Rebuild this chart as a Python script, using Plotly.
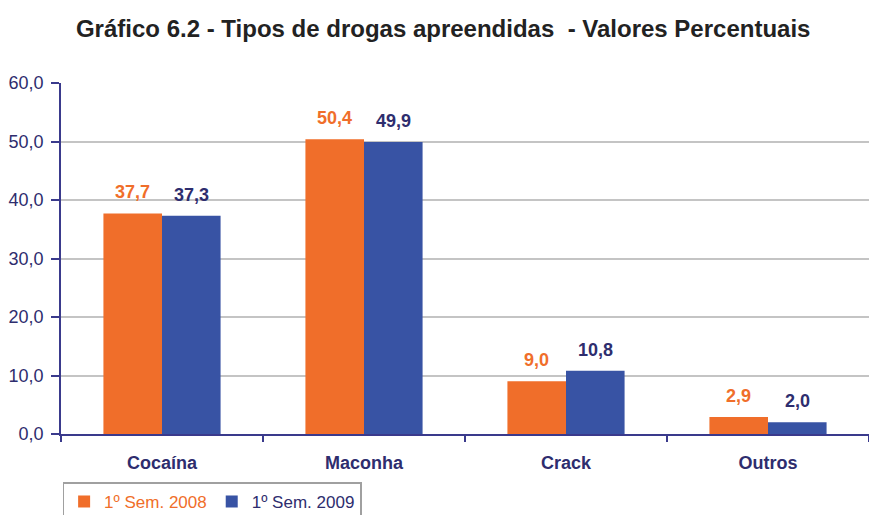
import plotly.graph_objects as go

categories = ["Cocaína", "Maconha", "Crack", "Outros"]
sem_2008 = [37.7, 50.4, 9.0, 2.9]
sem_2009 = [37.3, 49.9, 10.8, 2.0]
series_names = ["1º Sem. 2008", "1º Sem. 2009"]

ORANGE = "#F06E2A"
BLUE = "#3853A4"
NAVY = "#2E2D6E"
AXIS = "#3A3A8C"
FONT = "Liberation Sans, Arial, sans-serif"

W, H = 869, 515
M = dict(l=61, r=0, t=83, b=81, autoexpand=False)
BARGAP = 0.42


def fmt(v):
    return f"{v:.1f}".replace(".", ",")


fig = go.Figure()
series = [
    (series_names[0], sem_2008, ORANGE, ORANGE),
    (series_names[1], sem_2009, BLUE, NAVY),
]
for name, vals, col, tcol in series:
    fig.add_trace(go.Bar(
        x=categories, y=vals,
        name=f"<span style='color:{tcol}'>{name}</span>",
        marker=dict(color=col, line=dict(width=0)),
        hoverinfo="x+y",
    ))

# value labels above each bar
slot = (W - M["l"] - M["r"]) / len(categories)
half_bar = slot * (1 - BARGAP) / 4
for i, (name, vals, col, tcol) in enumerate(series):
    for c, v in zip(categories, vals):
        fig.add_annotation(
            x=c, y=v, xref="x", yref="y",
            text=f"<b>{fmt(v)}</b>", showarrow=False,
            yanchor="bottom", yshift=9,
            xshift=(-half_bar if i == 0 else half_bar),
            font=dict(family=FONT, size=18, color=tcol),
        )

fig.update_layout(
    width=W, height=H,
    margin=M,
    paper_bgcolor="white", plot_bgcolor="white",
    separators=",.",
    barmode="group",
    bargap=BARGAP, bargroupgap=0,
    font=dict(family=FONT, color=NAVY),
    title=dict(
        text="<b>Gráfico 6.2 - Tipos de drogas apreendidas  - Valores Percentuais</b>",
        x=0.51, xanchor="center", y=0.945, yanchor="middle",
        font=dict(family="Liberation Sans Narrow, Arial Narrow, " + FONT, size=24, color="#222222"),
    ),
    showlegend=True,
    legend=dict(
        orientation="h", x=0.002, xanchor="left", y=-0.138, yanchor="top",
        bordercolor="#A0A0A0", borderwidth=1.5,
        font=dict(family=FONT, size=17), itemwidth=30, tracegroupgap=0,
    ),
)
fig.update_yaxes(
    range=[0, 60], dtick=10, tickformat=".1f",
    showgrid=True, gridcolor="#C4C4C4", gridwidth=1.5,
    showline=True, linecolor=AXIS, linewidth=1.5,
    ticks="outside", ticklen=8, tickcolor=AXIS, tickwidth=1.5,
    tickfont=dict(family=FONT, size=18, color=NAVY),
    ticklabelstandoff=4,
    zeroline=False, automargin=False, fixedrange=True,
)
fig.update_xaxes(
    showline=True, linecolor=AXIS, linewidth=1.5,
    ticks="outside", tickson="boundaries", ticklen=6, tickcolor=AXIS, tickwidth=1.5,
    tickvals=categories, ticktext=[f"<b>{c}</b>" for c in categories],
    tickfont=dict(family=FONT, size=18, color=NAVY),
    ticklabelstandoff=12,
    automargin=False, fixedrange=True,
)

# drop the page's default body margin so the figure sits at the window origin
fig.write_html(
    "out.html",
    config={"displayModeBar": False},
    post_script="document.body.style.margin='0';",
)
